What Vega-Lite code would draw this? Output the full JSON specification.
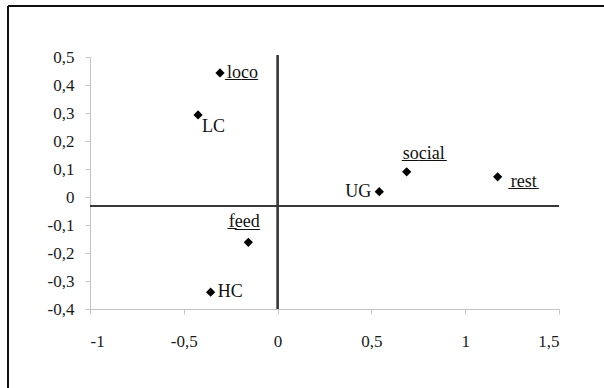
{
  "$schema": "https://vega.github.io/schema/vega-lite/v6.json",
  "autosize": "none",
  "width": 469,
  "height": 252,
  "padding": {"left": 90, "top": 57, "right": 45, "bottom": 79},
  "background": "white",
  "config": {
    "view": {"stroke": null},
    "font": "Liberation Serif",
    "style": {"guide-label": {"font": "Liberation Serif", "fontSize": 17, "fill": "#1a1a1a"}},
    "axis": {
      "grid": false,
      "domainColor": "#c4c4c4",
      "tickColor": "#c4c4c4",
      "tickSize": 5,
      "labelFont": "Liberation Serif",
      "labelFontSize": 17,
      "labelColor": "#1a1a1a",
      "labelOverlap": false,
      "title": null
    }
  },
  "data": {
    "values": [
      {"label": "l̲o̲c̲o̲", "x": -0.307, "y": 0.443},
      {"label": "LC", "x": -0.424, "y": 0.293},
      {"label": "s̲o̲c̲i̲a̲l̲", "x": 0.688, "y": 0.09},
      {"label": "r̲e̲s̲t̲", "x": 1.173, "y": 0.072},
      {"label": "UG", "x": 0.542, "y": 0.019},
      {"label": "f̲e̲e̲d̲", "x": -0.156, "y": -0.162},
      {"label": "HC", "x": -0.357, "y": -0.34}
    ]
  },
  "encoding": {
    "x": {
      "field": "x", "type": "quantitative",
      "scale": {"domain": [-1, 1.5], "nice": false, "zero": false},
      "axis": {"values": [-1, -0.5, 0, 0.5, 1, 1.5], "format": ".1~f", "labelPadding": 19,
        "labelFont": "Liberation Serif", "labelFontSize": 17, "labelColor": "#1a1a1a",
        "labelExpr": "replace(replace(datum.label, '.', ','), '−', '-')"}
    },
    "y": {
      "field": "y", "type": "quantitative",
      "scale": {"domain": [-0.4, 0.5], "nice": false, "zero": false},
      "axis": {"values": [-0.4, -0.3, -0.2, -0.1, 0, 0.1, 0.2, 0.3, 0.4, 0.5], "format": ".1~f", "labelPadding": 11,
        "labelFont": "Liberation Serif", "labelFontSize": 17, "labelColor": "#1a1a1a",
        "labelExpr": "replace(replace(datum.label, '.', ','), '−', '-')"}
    }
  },
  "layer": [
    {
      "mark": {"type": "rule", "color": "#111", "strokeWidth": 1.5, "clip": false},
      "encoding": {"x": {"datum": -1.437}, "y": {"datum": 0.682}, "y2": {"datum": -0.7}}
    },
    {
      "mark": {"type": "rule", "color": "#111", "strokeWidth": 1.5, "clip": false},
      "encoding": {"y": {"datum": 0.682}, "x": {"datum": -1.437}, "x2": {"datum": 1.75}}
    },
    {
      "mark": {"type": "rule", "color": "#3a3a3a", "strokeWidth": 1.5, "clip": false},
      "encoding": {"x": {"datum": 0}, "y": {"datum": 0.507}, "y2": {"datum": -0.4}}
    },
    {
      "mark": {"type": "rule", "color": "#3a3a3a", "strokeWidth": 1.5},
      "encoding": {"y": {"datum": -0.032}, "x": {"datum": -1}, "x2": {"datum": 1.5}}
    },
    {
      "mark": {"type": "point", "shape": "diamond", "filled": true, "color": "#000", "size": 85, "opacity": 1}
    },
    {
      "transform": [{"filter": {"field": "label", "oneOf": ["l̲o̲c̲o̲", "HC"]}}],
      "mark": {"type": "text", "align": "left", "baseline": "middle", "dx": 7, "fontSize": 18, "color": "#111", "font": "Liberation Serif"},
      "encoding": {"text": {"field": "label"}}
    },
    {
      "transform": [{"filter": {"field": "label", "equal": "LC"}}],
      "mark": {"type": "text", "align": "left", "baseline": "middle", "dx": 4, "dy": 12, "fontSize": 18, "color": "#111", "font": "Liberation Serif"},
      "encoding": {"text": {"field": "label"}}
    },
    {
      "transform": [{"filter": {"field": "label", "equal": "s̲o̲c̲i̲a̲l̲"}}],
      "mark": {"type": "text", "align": "left", "baseline": "middle", "dx": -4, "dy": -18, "fontSize": 18, "color": "#111", "font": "Liberation Serif"},
      "encoding": {"text": {"field": "label"}}
    },
    {
      "transform": [{"filter": {"field": "label", "equal": "r̲e̲s̲t̲"}}],
      "mark": {"type": "text", "align": "left", "baseline": "middle", "dx": 13, "dy": 5, "fontSize": 18, "color": "#111", "font": "Liberation Serif"},
      "encoding": {"text": {"field": "label"}}
    },
    {
      "transform": [{"filter": {"field": "label", "equal": "UG"}}],
      "mark": {"type": "text", "align": "right", "baseline": "middle", "dx": -8, "fontSize": 18, "color": "#111", "font": "Liberation Serif"},
      "encoding": {"text": {"field": "label"}}
    },
    {
      "transform": [{"filter": {"field": "label", "equal": "f̲e̲e̲d̲"}}],
      "mark": {"type": "text", "align": "center", "baseline": "middle", "dx": -4, "dy": -20, "fontSize": 18, "color": "#111", "font": "Liberation Serif"},
      "encoding": {"text": {"field": "label"}}
    }
  ]
}
